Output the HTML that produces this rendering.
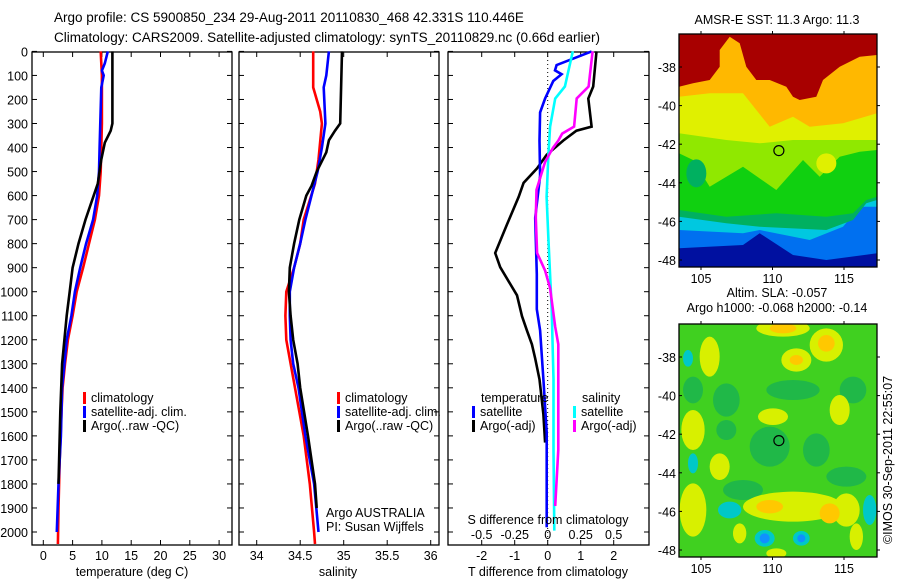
<!DOCTYPE html>
<html><head><meta charset="utf-8"><style>
html,body{margin:0;padding:0;background:#fff;}
svg text{font-family:"Liberation Sans",sans-serif;fill:#000;}
</style></head><body>
<svg id="root" width="900" height="580" viewBox="0 0 900 580" xmlns="http://www.w3.org/2000/svg">
<text x="54" y="22" font-size="13.5">Argo profile: CS 5900850_234 29-Aug-2011 20110830_468 42.331S 110.446E</text>
<text x="54" y="42" font-size="13.5">Climatology: CARS2009. Satellite-adjusted climatology: synTS_20110829.nc (0.66d earlier)</text>
<g id="p1"></g>
<g id="p2"></g>
<g id="p3"></g>
<g id="m1"></g>
<g id="m2"></g>
<text transform="translate(892,460) rotate(-90)" text-anchor="middle" font-size="12.5">©IMOS 30-Sep-2011 22:55:07</text>
</svg>
<script>
// ---- data ----
const depthTicks=[0,100,200,300,400,500,600,700,800,900,1000,1100,1200,1300,1400,1500,1600,1700,1800,1900,2000];
const tempTicks=[0,5,10,15,20,25,30];
const salTicks=[34,34.5,35,35.5,36];
const salTickLabels=["34","34.5","35","35.5","36"];
const tdiffTicks=[-2,-1,0,1,2];
const sdiffTicks=[-0.5,-0.25,0,0.25,0.5];
const sdiffTickLabels=["-0.5","-0.25","0","0.25","0.5"];
// temperature profiles [depth, T]
const tClimDepth=[0,100,300,500,600,700,800,900,1000,1100,1200,1300,1400,1500,1700,1900,2050];
const tClimVal=[9.8,10,10,9.8,9.5,8.8,7.8,6.8,5.7,5,4.2,3.7,3.3,3.1,2.8,2.6,2.5];
const tSatDepth=[0,50,80,100,150,400,500,600,700,800,900,1000,1100,1200,1400,1600,1800,2000];
const tSatVal=[11,10.5,10,10.3,9.9,9.6,9.5,9.2,8.5,7.3,6.3,5.4,4.8,4,3.2,3,2.6,2.3];
const tArgoDepth=[0,300,330,380,450,550,600,700,800,900,1000,1100,1200,1300,1500,1700,1800];
const tArgoVal=[11.8,11.8,11.5,10.5,9.9,9.3,8.6,7.2,6,5,4.5,4,3.6,3.2,2.9,2.7,2.6];
// salinity profiles
const sClimDepth=[0,150,250,300,450,550,700,800,900,1000,1100,1200,1400,1600,1800,2000,2050];
const sClimVal=[34.65,34.65,34.73,34.75,34.71,34.67,34.54,34.5,34.43,34.34,34.33,34.34,34.44,34.54,34.61,34.66,34.67];
const sSatDepth=[0,100,150,300,400,500,600,700,800,900,1000,1100,1200,1300,1400,1600,1800,2000];
const sSatVal=[34.83,34.8,34.77,34.79,34.75,34.7,34.63,34.56,34.5,34.43,34.38,34.38,34.39,34.42,34.48,34.56,34.66,34.71];
const sArgoDepth=[0,300,330,370,420,500,560,600,700,800,900,1000,1100,1200,1300,1400,1600,1800,1900];
const sArgoVal=[34.98,34.96,34.9,34.83,34.8,34.69,34.63,34.57,34.49,34.43,34.38,34.37,34.39,34.42,34.47,34.5,34.59,34.67,34.69];
// difference profiles
const dTSatDepth=[0,57,79,95,123,196,254,371,518,693,927,1073,1161,1365,1585,1980];
const dTSatVal=[1.33,0.27,0.22,0.42,0.17,-0.08,-0.23,-0.25,-0.23,-0.38,-0.33,-0.33,-0.23,-0.13,-0.03,-0.03];
const dTArgoDepth=[0,146,196,313,330,371,430,488,547,605,722,839,898,1015,1102,1161,1219,1278,1365,1511,1628];
const dTArgoVal=[1.48,1.38,1.23,1.33,0.87,0.47,-0.03,-0.33,-0.73,-0.88,-1.24,-1.59,-1.44,-0.93,-0.78,-0.63,-0.48,-0.38,-0.25,-0.13,-0.08];
const dSSatDepth=[0,146,196,313,430,605,780,1073,1365,1658,1994];
const dSSatVal=[0.19,0.13,0.057,0.018,0.005,-0.008,0.005,0.03,0.044,0.044,0.05];
const dSArgoDepth=[0,146,196,313,342,371,401,460,576,693,839,912,985,1146,1219,1365,1658,1892];
const dSArgoVal=[0.34,0.31,0.22,0.2,0.11,0.08,0.04,-0.02,-0.085,-0.09,-0.08,-0.02,0.018,0.057,0.08,0.08,0.08,0.057];
const lonTicks=[105,110,115];
const latTicks=[-38,-40,-42,-44,-46,-48];
const argoLon=[110.446], argoLat=[-42.331];
// ---- helpers ----
const NS="http://www.w3.org/2000/svg";
function mk(parent,tag,attrs,text){const e=document.createElementNS(NS,tag);for(const k in attrs)e.setAttribute(k,attrs[k]);if(text!==undefined)e.textContent=text;parent.appendChild(e);return e;}
const Y0=51.4,YS=0.2403,TOP=52,BOT=545;
const yD=d=>Y0+d*YS;
function panelFrame(g,x0,x1,xf,ticks,labels,ylabels){
  const r=mk(g,'rect',{x:x0,y:TOP,width:x1-x0,height:BOT-TOP,fill:'none',stroke:'#000','stroke-width':1.3});
  
  
  depthTicks.forEach(d=>{const y=yD(d);
    mk(g,'line',{x1:x0,x2:x0+5,y1:y,y2:y,stroke:'#000'});
    mk(g,'line',{x1:x1-5,x2:x1,y1:y,y2:y,stroke:'#000'});
    if(ylabels){const t=mk(g,'text',{x:28,y:y+5,'text-anchor':'end','font-size':12.5},String(d));
      
      }
  });
  ticks.forEach((v,i)=>{const x=xf(v);
    mk(g,'line',{x1:x,x2:x,y1:TOP,y2:TOP+5,stroke:'#000'});
    mk(g,'line',{x1:x,x2:x,y1:BOT-5,y2:BOT,stroke:'#000'});
    const t=mk(g,'text',{x:x,y:560,'text-anchor':'middle','font-size':12.5},labels[i]);
    
    
  });
}
function line(g,xs,ds,xf,color,name){
  const pts=xs.map((v,i)=>xf(v).toFixed(1)+','+yD(ds[i]).toFixed(1)).join(' ');
  const p=mk(g,'polyline',{points:pts,fill:'none',stroke:color,'stroke-width':2.6,'stroke-linejoin':'miter'});
  
  
}
function legend(g,x,y,color,label){
  mk(g,'rect',{x:x,y:y-10,width:3,height:12,fill:color});
  const t=mk(g,'text',{x:x+8,y:y,'font-size':12.5},label);
  
  
}
// ---- panel 1 ----
const p1=document.getElementById('p1');
const xT=v=>43.3+v*5.86;
panelFrame(p1,32,232,xT,tempTicks,tempTicks.map(String),true);
line(p1,tClimVal,tClimDepth,xT,'#ff0000','temp-climatology-line');
line(p1,tSatVal,tSatDepth,xT,'#0000ff','temp-satellite-line');
line(p1,tArgoVal,tArgoDepth,xT,'#000000','temp-argo-line');
legend(p1,83,402,'#ff0000','climatology');
legend(p1,83,416,'#0000ff','satellite-adj. clim.');
legend(p1,83,430,'#000000','Argo(..raw -QC)');
let t=mk(p1,'text',{x:132,y:576,'text-anchor':'middle','font-size':12.5},'temperature (deg C)');


// ---- panel 2 ----
const p2=document.getElementById('p2');
const xS=v=>256.7+(v-34)*87;
panelFrame(p2,239,439,xS,salTicks,salTickLabels,false);
line(p2,sClimVal,sClimDepth,xS,'#ff0000','sal-climatology-line');
line(p2,sSatVal,sSatDepth,xS,'#0000ff','sal-satellite-line');
line(p2,sArgoVal,sArgoDepth,xS,'#000000','sal-argo-line');
legend(p2,337,402,'#ff0000','climatology');
legend(p2,337,416,'#0000ff','satellite-adj. clim.');
legend(p2,337,430,'#000000','Argo(..raw -QC)');
t=mk(p2,'text',{x:338,y:576,'text-anchor':'middle','font-size':12.5},'salinity');


t=mk(p2,'text',{x:326,y:517,'font-size':12.5},'Argo AUSTRALIA');


t=mk(p2,'text',{x:326,y:531,'font-size':12.5},'PI: Susan Wijffels');


// ---- panel 3 ----
const p3=document.getElementById('p3');
const xD=v=>547.7+v*33;
const xSD=v=>547.7+v*132;
panelFrame(p3,448,649,xD,tdiffTicks,tdiffTicks.map(String),false);
const zl=mk(p3,'line',{x1:xD(0),x2:xD(0),y1:TOP,y2:BOT,stroke:'#000','stroke-dasharray':'1,3'});


line(p3,dTArgoVal,dTArgoDepth,xD,'#000000','tdiff-argo-line');
line(p3,dTSatVal,dTSatDepth,xD,'#0000ff','tdiff-satellite-line');
line(p3,dSSatVal,dSSatDepth,xSD,'#00ffff','sdiff-satellite-line');
line(p3,dSArgoVal,dSArgoDepth,xSD,'#ff00ff','sdiff-argo-line');
t=mk(p3,'text',{x:481,y:402,'font-size':12.5},'temperature');


t=mk(p3,'text',{x:582,y:402,'font-size':12.5},'salinity');


legend(p3,472,416,'#0000ff','satellite');
legend(p3,472,430,'#000000','Argo(-adj)');
legend(p3,573,416,'#00ffff','satellite');
legend(p3,573,430,'#ff00ff','Argo(-adj)');
t=mk(p3,'text',{x:548,y:524,'text-anchor':'middle','font-size':12.5},'S difference from climatology');


sdiffTicks.forEach((v,i)=>{const tt=mk(p3,'text',{x:xSD(v),y:539,'text-anchor':'middle','font-size':12.5},sdiffTickLabels[i]);
  
  });
t=mk(p3,'text',{x:548,y:576,'text-anchor':'middle','font-size':12.5},'T difference from climatology');


// ---- maps ----
const MX0=679,MX1=877,MW=198,MH=233;
const lonX=l=>701+(l-105)*14.3;
function mapFrame(g,ty,title1,title2){
  const yLat=l=>ty+33+(-38-l)*19.3;
  const r=mk(g,'rect',{x:MX0,y:ty,width:MW,height:MH,fill:'none',stroke:'#000','stroke-width':1.3});
  
  
  lonTicks.forEach(l=>{const x=lonX(l);
    mk(g,'line',{x1:x,x2:x,y1:ty-3,y2:ty,stroke:'#000'});
    mk(g,'line',{x1:x,x2:x,y1:ty+MH,y2:ty+MH+3,stroke:'#000'});
    const tt=mk(g,'text',{x:x,y:ty+MH+16,'text-anchor':'middle','font-size':12.5},String(l));
    
    });
  latTicks.forEach(l=>{const y=yLat(l);
    mk(g,'line',{x1:MX0,x2:MX0+3,y1:y,y2:y,stroke:'#000'});
    mk(g,'line',{x1:MX1,x2:MX1+3,y1:y,y2:y,stroke:'#000'});
    const tt=mk(g,'text',{x:676,y:y+5,'text-anchor':'end','font-size':12.5},String(l));
    
    });
  const c=mk(g,'circle',{cx:lonX(argoLon[0]),cy:yLat(argoLat[0]),r:5,fill:'none',stroke:'#000','stroke-width':1.2});
  
  
  if(title2){
    let a=mk(g,'text',{x:777,y:ty-27,'text-anchor':'middle','font-size':12.5},title1);
    
    
    a=mk(g,'text',{x:777,y:ty-12,'text-anchor':'middle','font-size':12.5},title2);
    
    
  } else {
    const a=mk(g,'text',{x:777,y:ty-10,'text-anchor':'middle','font-size':12.5},title1);
    
    
  }
}
function poly(g,ty,color,pts){
  const s=pts.map(p=>(MX0+(p[0]-58)/3).toFixed(1)+','+(ty+(p[1]-102)/3).toFixed(1)).join(' ');
  mk(g,'polygon',{points:s,fill:color});
}
function band(g,ty,color,bnd){
  const pts=[[58,102]].concat(bnd.map(b=>[b[0],b[1]])).concat([[652,102]]);
  poly(g,ty,color,pts);
}
const m1=document.getElementById('m1');
const ty1=34;
const cl=mk(m1,'clipPath',{id:'c1'});mk(cl,'rect',{x:MX0,y:ty1,width:MW,height:MH});
const g1=mk(m1,'g',{'clip-path':'url(#c1)'});
mk(g1,'rect',{x:MX0,y:ty1,width:MW,height:MH,fill:'#0010a0'});
band(g1,ty1,'#0070f0',[[58,745],[250,735],[300,700],[400,765],[500,780],[652,760]]);
band(g1,ty1,'#00c8e0',[[58,690],[250,700],[300,690],[450,720],[550,680],[600,620],[652,620]]);
band(g1,ty1,'#00b060',[[58,650],[200,670],[300,680],[500,690],[580,660],[620,610],[652,600]]);
band(g1,ty1,'#10d010',[[58,630],[200,650],[350,640],[500,650],[580,640],[620,600],[652,590]]);
band(g1,ty1,'#90e800',[[58,460],[100,480],[150,560],[250,500],[350,570],[430,480],[480,530],[540,470],[600,455],[652,450]]);
band(g1,ty1,'#e0f000',[[58,400],[200,420],[300,430],[400,420],[500,420],[652,420]]);
band(g1,ty1,'#ffb800',[[58,290],[150,280],[250,280],[330,380],[400,350],[450,380],[550,370],[652,340]]);
band(g1,ty1,'#a80000',[[58,260],[100,250],[150,240],[180,200],[180,150],[210,110],[240,130],[260,200],[290,240],[330,240],[380,260],[400,290],[420,300],[470,290],[490,240],[540,200],[600,170],[652,165]]);
mk(g1,'ellipse',{cx:MX0+(110-58)/3,cy:ty1+(520-102)/3,rx:10,ry:14,fill:'#00b060'});
mk(g1,'ellipse',{cx:MX0+(500-58)/3,cy:ty1+(490-102)/3,rx:10,ry:10,fill:'#e0f000'});
mapFrame(m1,ty1,'AMSR-E SST: 11.3 Argo: 11.3');
const m2=document.getElementById('m2');
const ty2=324;
const cl2=mk(m2,'clipPath',{id:'c2'});mk(cl2,'rect',{x:MX0,y:ty2,width:MW,height:MH});
const g2=mk(m2,'g',{'clip-path':'url(#c2)'});
mk(g2,'rect',{x:MX0,y:ty2,width:MW,height:MH,fill:'#40d020'});
function ell(g,ty,cx,cy,rx,ry,c){mk(g,'ellipse',{cx:MX0+(cx-58)/3,cy:ty+(cy-102)/3,rx:rx/3,ry:ry/3,fill:c});}
[[400,300,80,30],[330,470,60,60],[470,480,40,50],[580,300,40,40],[200,330,40,50],[100,300,30,40],[560,560,60,30],[250,600,60,30],[200,420,30,30]].forEach(e=>ell(g2,ty2,e[0],e[1],e[2],e[3],'#20b848'));
[[370,115,80,25],[500,165,50,50],[410,210,45,35],[150,200,30,60],[540,360,30,45],[340,380,45,25],[100,420,35,60],[180,530,30,40],[100,660,40,80],[400,650,150,45],[560,660,40,50],[240,730,20,30],[590,740,20,40],[350,790,30,15]].forEach(e=>ell(g2,ty2,e[0],e[1],e[2],e[3],'#d8f000'));
[[370,115,40,15],[500,160,25,25],[410,210,20,15],[330,650,40,20],[510,670,30,30]].forEach(e=>ell(g2,ty2,e[0],e[1],e[2],e[3],'#ffc800'));
[[85,205,15,25],[100,520,15,30],[210,660,35,25],[630,660,20,45],[315,745,30,25],[425,745,25,22]].forEach(e=>ell(g2,ty2,e[0],e[1],e[2],e[3],'#00c8c8'));
[[315,745,15,15],[425,745,12,12]].forEach(e=>ell(g2,ty2,e[0],e[1],e[2],e[3],'#1090ff'));
mapFrame(m2,ty2,'Altim. SLA: -0.057','Argo h1000: -0.068 h2000: -0.14');
</script>
</body></html>
